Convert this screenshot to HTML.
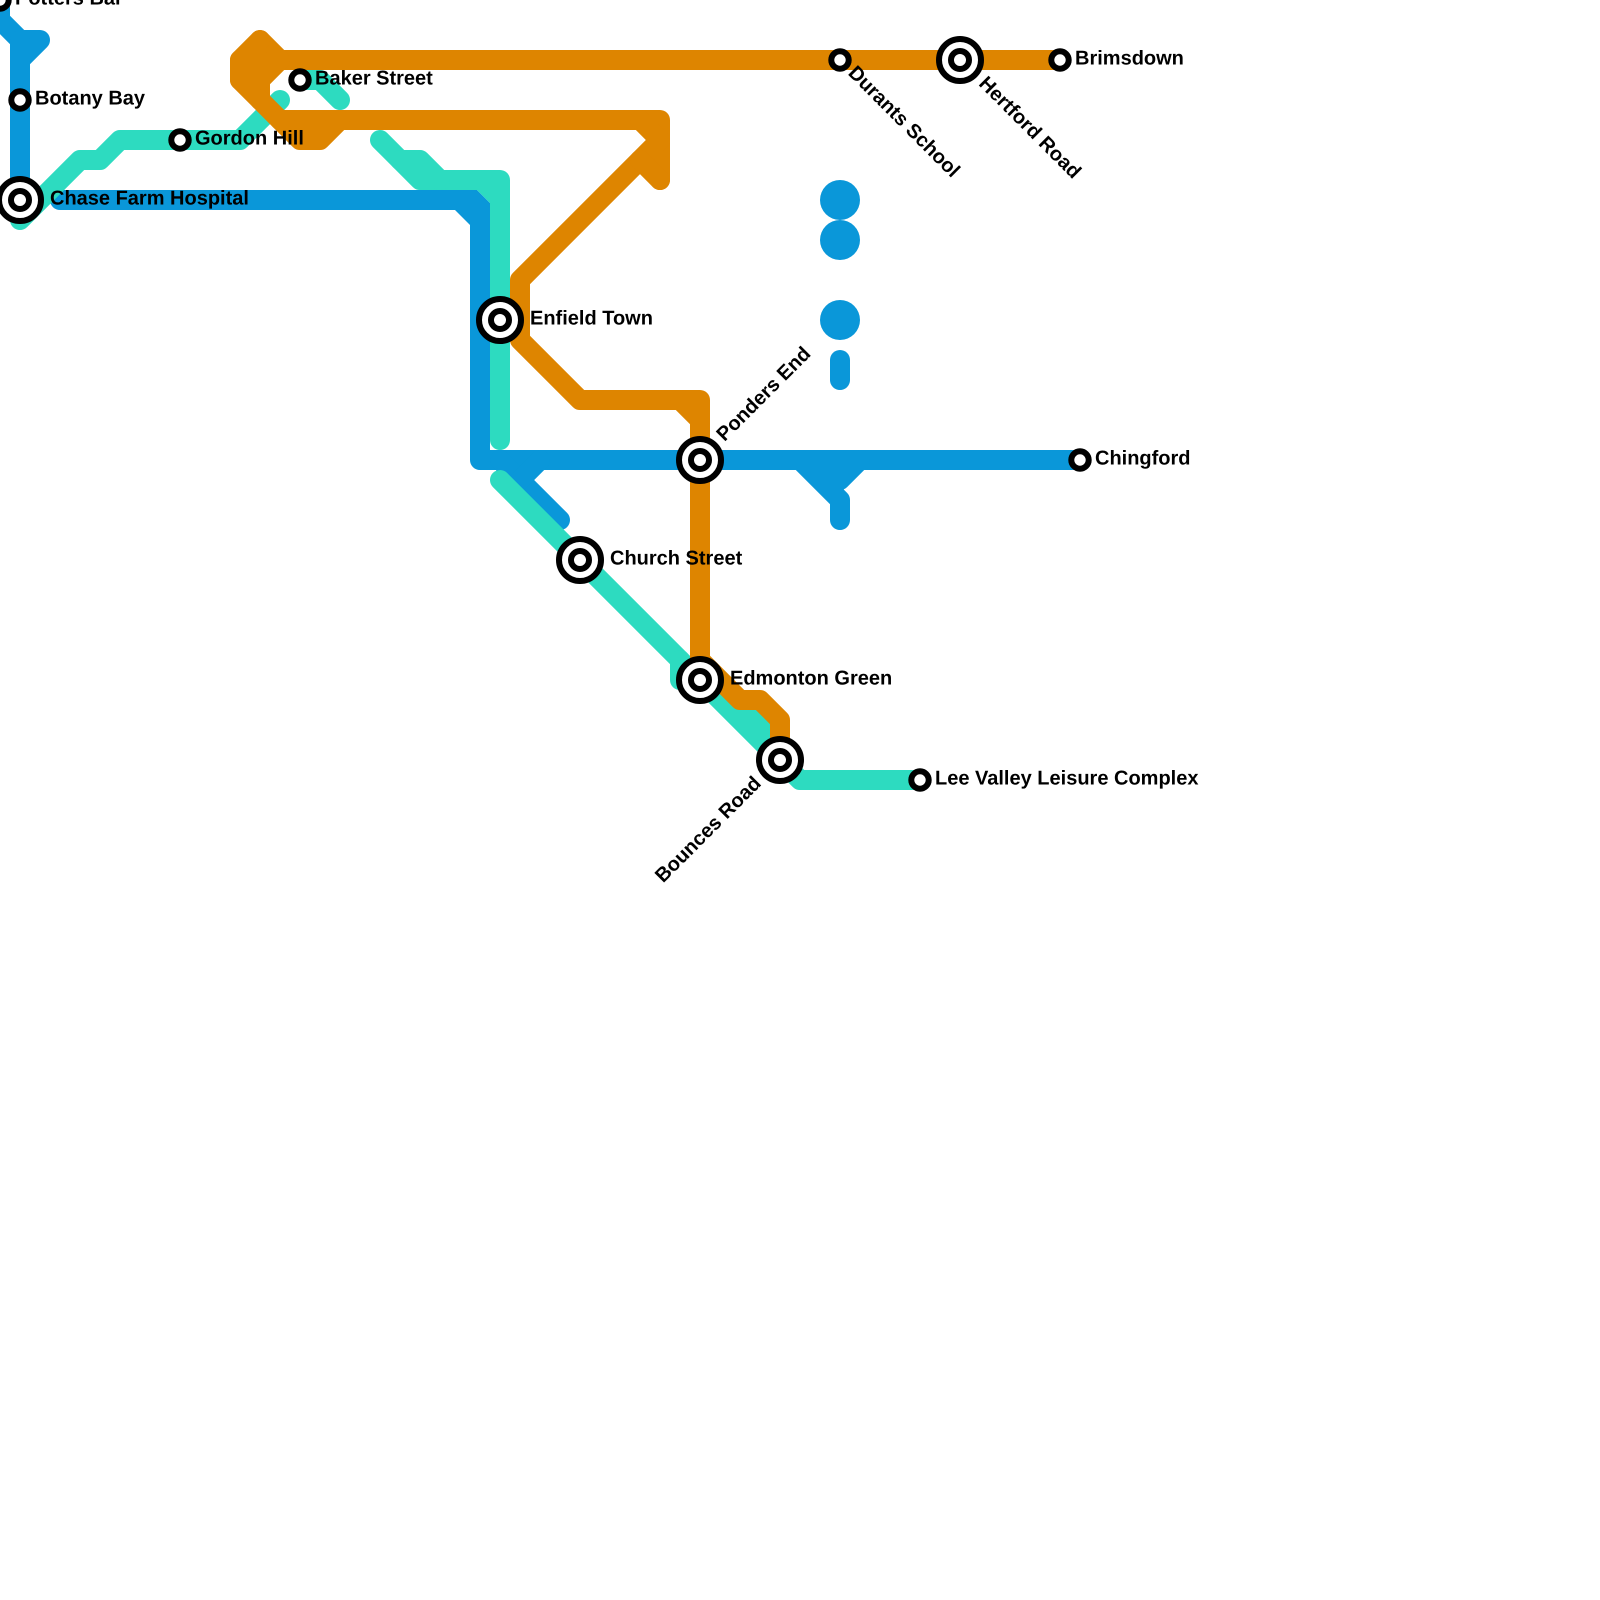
<!DOCTYPE html>
<html><head><meta charset="utf-8"><style>
html,body{margin:0;padding:0;background:#fff}
svg{display:block}
text{font-family:"Liberation Sans",Arial,sans-serif;font-weight:bold;font-size:20px;fill:#000;text-rendering:geometricPrecision}
.l{fill:none;stroke-width:20;stroke-linecap:round;stroke-linejoin:round}
.b{stroke:#0a97d9}.t{stroke:#2ddbc0}.o{stroke:#de8500}
.s{fill:#fff;stroke:#000;stroke-width:6}
</style></head><body>
<svg width="1600" height="1600" viewBox="0 0 1600 1600" xmlns="http://www.w3.org/2000/svg">
<rect width="1600" height="1600" fill="#fff"/>
<g class="l b">
<path d="M0 0V20L20 40H40L20 60V200"/>
<path d="M20 40V60"/>
<path d="M60 200H450"/>
<path d="M480 240V460H1080"/>
<path d="M500 460L560 520"/>
<path d="M540 460L520 480"/>
<path d="M800 460L840 500V520"/>
<path d="M860 460L840 480"/>
<path d="M840 360V380"/>
</g>
<polygon points="445,190 477,190 490,203 490,245 470,245 470,225 455,210 445,210" fill="#0a97d9"/>
<polygon points="805,468 858,468 842,492 838,500" fill="#0a97d9"/>
<circle cx="840" cy="200" r="20" fill="#0a97d9"/>
<circle cx="840" cy="240" r="20" fill="#0a97d9"/>
<circle cx="840" cy="320" r="20" fill="#0a97d9"/>
<g class="l t">
<path d="M20 220L80 160H100L120 140H240L280 100"/>
<path d="M300 80H320L340 100"/>
<path d="M380 140L420 180H500V440"/>
<path d="M400 160H420L440 180"/>
<path d="M500 480L780 760L800 780H920"/>
<path d="M680 660V680"/>
</g>
<polygon points="477,190 492,190 492,205" fill="#2ddbc0"/>
<polygon points="710,680 760,700 770,720 770,745 752,745 710,703" fill="#2ddbc0"/>
<g class="l o">
<path d="M260 60H1060"/>
<path d="M260 40L280 60L260 80V100"/>
<path d="M260 40L240 60V80L280 120H660V180"/>
<path d="M260 60H240V80H260Z"/>
<path d="M280 120L300 140H320L340 120"/>
<path d="M640 120L660 140L520 280V340L580 400H700V680"/>
<path d="M680 400L700 420"/>
<path d="M660 180L640 160"/>
<path d="M700 660L740 700H760L780 720V760"/>
</g>
<g>
<circle class="s" cx="0" cy="0" r="8.7"/>
<circle class="s" cx="20" cy="100" r="8.7"/>
<circle class="s" cx="180" cy="140" r="8.7"/>
<circle class="s" cx="300" cy="80" r="8.7"/>
<circle class="s" cx="840" cy="60" r="8.7"/>
<circle class="s" cx="1060" cy="60" r="8.7"/>
<circle class="s" cx="1080" cy="460" r="8.7"/>
<circle class="s" cx="920" cy="780" r="8.7"/>
<circle class="s" cx="20" cy="200" r="21"/><circle class="s" cx="20" cy="200" r="9"/>
<circle class="s" cx="500" cy="320" r="21"/><circle class="s" cx="500" cy="320" r="9"/>
<circle class="s" cx="700" cy="460" r="21"/><circle class="s" cx="700" cy="460" r="9"/>
<circle class="s" cx="580" cy="560" r="21"/><circle class="s" cx="580" cy="560" r="9"/>
<circle class="s" cx="700" cy="680" r="21"/><circle class="s" cx="700" cy="680" r="9"/>
<circle class="s" cx="780" cy="760" r="21"/><circle class="s" cx="780" cy="760" r="9"/>
<circle class="s" cx="960" cy="60" r="21"/><circle class="s" cx="960" cy="60" r="9"/>
</g>
<text x="15" y="4.7">Potters Bar</text>
<text x="35" y="104.7">Botany Bay</text>
<text x="50" y="204.7">Chase Farm Hospital</text>
<text x="195" y="144.7">Gordon Hill</text>
<text x="315" y="84.7">Baker Street</text>
<text x="530" y="324.7">Enfield Town</text>
<text x="610" y="564.7">Church Street</text>
<text x="730" y="684.7">Edmonton Green</text>
<text x="935" y="784.7">Lee Valley Leisure Complex</text>
<text x="1095" y="464.7">Chingford</text>
<text x="1075" y="64.7">Brimsdown</text>
<text transform="translate(840,60) rotate(45)" x="15" y="4.7">Durants School</text>
<text transform="translate(960,60) rotate(45)" x="30" y="4.7">Hertford Road</text>
<text transform="translate(700,460) rotate(-45)" x="30" y="4.7">Ponders End</text>
<text transform="translate(780,760) rotate(-45)" x="-30" y="4.7" text-anchor="end">Bounces Road</text>
</svg>
</body></html>
